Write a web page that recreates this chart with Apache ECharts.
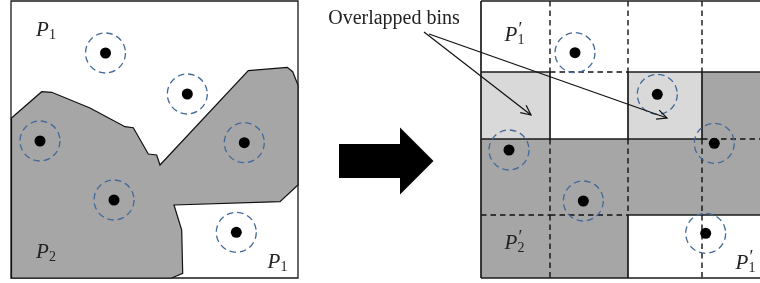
<!DOCTYPE html>
<html>
<head>
    <meta charset="UTF-8">
    <title>Overlapped bins</title>
    <script src="https://cdn.jsdelivr.net/npm/echarts@6/dist/echarts.min.js"></script>
    <style>
        html, body { margin: 0; padding: 0; background: #fff; }
    </style>
</head>
<body>
<div id="main" style="width: 760px; height: 283px;"></div>
<script>
    // left panel: box and the P2 region outline
    var leftBox = [11, 298, 1, 278];
    var regionP2 = [
        [11.5, 118], [41.7, 91.7], [51.7, 92.3], [90, 108], [125, 126.7], [133.3, 127.7],
        [148.3, 154], [156.7, 155], [160, 165], [248.3, 70.7], [287.3, 67.3], [292.7, 71.7],
        [298, 85], [298, 185], [280, 201.7], [174, 205], [181.7, 230], [182.7, 273.3],
        [171.7, 278], [11.5, 278]
    ];
    var leftDots = [[105.5, 53], [187.3, 94], [40, 141], [244.3, 142.7], [114, 200], [236.3, 232.3]];

    // right panel: bins
    var colEdges = [481, 550, 628, 702, 762];
    var rowEdges = [1, 72, 139, 215, 278];
    // 0 = white, 1 = overlapped (light), 2 = P2 (dark)
    var cellFill = [
        [0, 0, 0, 0],
        [1, 0, 1, 2],
        [2, 2, 2, 2],
        [2, 2, 0, 0]
    ];
    var rightDots = [[575, 52.7], [657.3, 94.3], [509, 150], [714.3, 143.3], [583.3, 201], [705.7, 233.3]];

    // labels: x, y, subscript, prime
    var labels = [
        [36, 30, '1', 0], [36, 252, '2', 0], [267.5, 262, '1', 0],
        [504.5, 35, '1', 1], [504.5, 243, '2', 1], [735.5, 263, '1', 1]
    ];
    var calloutText = ['Overlapped bins', 394, 19];
    var callouts = [[424, 32, 531, 115], [429, 34, 667, 118]];
    var bigArrow = [339, 433.5, 161];

    var fills = ['#ffffff', '#d9d9d9', '#a6a6a6'];

    var cellData = [];
    var lineData = [];
    for (var r = 0; r < 4; r++) {
        for (var c = 0; c < 4; c++) {
            cellData.push([colEdges[c], colEdges[c + 1], rowEdges[r], rowEdges[r + 1], cellFill[r][c]]);
            // right edge of the cell
            if (c < 3) {
                lineData.push([colEdges[c + 1], rowEdges[r], colEdges[c + 1], rowEdges[r + 1],
                    cellFill[r][c] === cellFill[r][c + 1] ? 1 : 0]);
            }
            // bottom edge of the cell
            if (r < 3) {
                lineData.push([colEdges[c], rowEdges[r + 1], colEdges[c + 1], rowEdges[r + 1],
                    cellFill[r][c] === cellFill[r + 1][c] ? 1 : 0]);
            }
        }
    }
    // outer border of the right panel
    lineData.push([colEdges[0], rowEdges[0], colEdges[4], rowEdges[0], 0]);
    lineData.push([colEdges[0], rowEdges[4], colEdges[4], rowEdges[4], 0]);
    lineData.push([colEdges[0], rowEdges[0], colEdges[0], rowEdges[4], 0]);

    var allDots = leftDots.concat(rightDots);

    var chart = echarts.init(document.getElementById('main'));

    var option = {
        animation: false,
        grid: { left: 0, right: 0, top: 0, bottom: 0 },
        xAxis: { type: 'value', min: 0, max: 760, show: false },
        yAxis: { type: 'value', min: 0, max: 283, inverse: true, show: false },
        series: [
            {
                // left box
                type: 'custom', z: 1, clip: false,
                data: [leftBox],
                renderItem: function (params, api) {
                    var a = api.coord([api.value(0), api.value(2)]);
                    var b = api.coord([api.value(1), api.value(3)]);
                    return {
                        type: 'rect',
                        shape: { x: a[0], y: a[1], width: b[0] - a[0], height: b[1] - a[1] },
                        style: { fill: '#fff', stroke: '#1a1a1a', lineWidth: 1.3 }
                    };
                }
            },
            {
                // P2 region
                type: 'custom', z: 2, clip: false,
                data: [0],
                renderItem: function (params, api) {
                    return {
                        type: 'polygon',
                        shape: { points: regionP2.map(function (p) { return api.coord(p); }) },
                        style: { fill: '#a6a6a6', stroke: '#111', lineWidth: 1.2 }
                    };
                }
            },
            {
                // bins
                type: 'custom', z: 2, clip: false,
                data: cellData,
                renderItem: function (params, api) {
                    var a = api.coord([api.value(0), api.value(2)]);
                    var b = api.coord([api.value(1), api.value(3)]);
                    return {
                        type: 'rect',
                        shape: { x: a[0], y: a[1], width: b[0] - a[0], height: b[1] - a[1] },
                        style: { fill: fills[api.value(4)] }
                    };
                }
            },
            {
                // bin edges
                type: 'custom', z: 3, clip: false,
                data: lineData,
                renderItem: function (params, api) {
                    var a = api.coord([api.value(0), api.value(1)]);
                    var b = api.coord([api.value(2), api.value(3)]);
                    var dashed = api.value(4) === 1;
                    return {
                        type: 'line',
                        shape: { x1: a[0], y1: a[1], x2: b[0], y2: b[1] },
                        style: {
                            stroke: dashed ? '#111' : '#1a1a1a',
                            lineWidth: dashed ? 1.4 : 1.7,
                            lineDash: dashed ? [5.5, 4] : null
                        }
                    };
                }
            },
            {
                // dashed circles
                type: 'custom', z: 4, clip: false,
                data: allDots,
                renderItem: function (params, api) {
                    var p = api.coord([api.value(0), api.value(1)]);
                    return {
                        type: 'circle',
                        shape: { cx: p[0], cy: p[1], r: 20 },
                        style: { fill: null, stroke: '#44699a', lineWidth: 1.3, lineDash: [6.5, 4] }
                    };
                }
            },
            {
                type: 'scatter', z: 5,
                symbol: 'circle', symbolSize: 11,
                itemStyle: { color: '#000', opacity: 1 },
                silent: true,
                data: allDots
            },
            {
                // P labels
                type: 'custom', z: 6, clip: false,
                data: labels,
                renderItem: function (params, api) {
                    var item = labels[params.dataIndex];
                    var p = api.coord([item[0], item[1]]);
                    var kids = [
                        {
                            type: 'text',
                            style: {
                                text: 'P', x: p[0], y: p[1],
                                font: 'italic 21px "Liberation Serif"', fill: '#222',
                                textAlign: 'left', textVerticalAlign: 'middle'
                            }
                        },
                        {
                            type: 'text',
                            style: {
                                text: item[2], x: p[0] + 13, y: p[1] + 5,
                                font: '14px "Liberation Serif"', fill: '#222',
                                textAlign: 'left', textVerticalAlign: 'middle'
                            }
                        }
                    ];
                    if (item[3]) {
                        kids.push({
                            type: 'text',
                            style: {
                                text: '\u2032', x: p[0] + 14, y: p[1] - 5,
                                font: '18px "Liberation Serif"', fill: '#222',
                                textAlign: 'left', textVerticalAlign: 'middle'
                            }
                        });
                    }
                    return { type: 'group', children: kids };
                }
            },
            {
                // callout text
                type: 'custom', z: 6, clip: false,
                data: [0],
                renderItem: function (params, api) {
                    var p = api.coord([calloutText[1], calloutText[2]]);
                    return {
                        type: 'text',
                        style: {
                            text: calloutText[0], x: p[0], y: p[1],
                            font: '20px "Liberation Serif"', fill: '#222',
                            textAlign: 'center', textVerticalAlign: 'middle'
                        }
                    };
                }
            },
            {
                // callout arrows (open heads)
                type: 'custom', z: 7, clip: false,
                data: callouts,
                renderItem: function (params, api) {
                    var a = api.coord([api.value(0), api.value(1)]);
                    var b = api.coord([api.value(2), api.value(3)]);
                    var ang = Math.atan2(b[1] - a[1], b[0] - a[0]);
                    var len = 11, spread = 0.45;
                    var h1 = [b[0] - len * Math.cos(ang - spread), b[1] - len * Math.sin(ang - spread)];
                    var h2 = [b[0] - len * Math.cos(ang + spread), b[1] - len * Math.sin(ang + spread)];
                    var st = { stroke: '#111', lineWidth: 1.2, fill: null };
                    return {
                        type: 'group',
                        children: [
                            { type: 'line', shape: { x1: a[0], y1: a[1], x2: b[0], y2: b[1] }, style: st },
                            { type: 'polyline', shape: { points: [h1, b, h2] }, style: st }
                        ]
                    };
                }
            },
            {
                // big arrow between the panels
                type: 'custom', z: 7, clip: false,
                data: [bigArrow],
                renderItem: function (params, api) {
                    var t = api.coord([api.value(0), api.value(2)]);
                    var h = api.coord([api.value(1), api.value(2)]);
                    var y = t[1];
                    var body = 17, head = 33.5, headLen = 33.5;
                    return {
                        type: 'polygon',
                        shape: {
                            points: [
                                [t[0], y - body], [h[0] - headLen, y - body], [h[0] - headLen, y - head],
                                [h[0], y], [h[0] - headLen, y + head], [h[0] - headLen, y + body],
                                [t[0], y + body]
                            ]
                        },
                        style: { fill: '#000' }
                    };
                }
            }
        ]
    };

    chart.setOption(option);
</script>
</body>
</html>
